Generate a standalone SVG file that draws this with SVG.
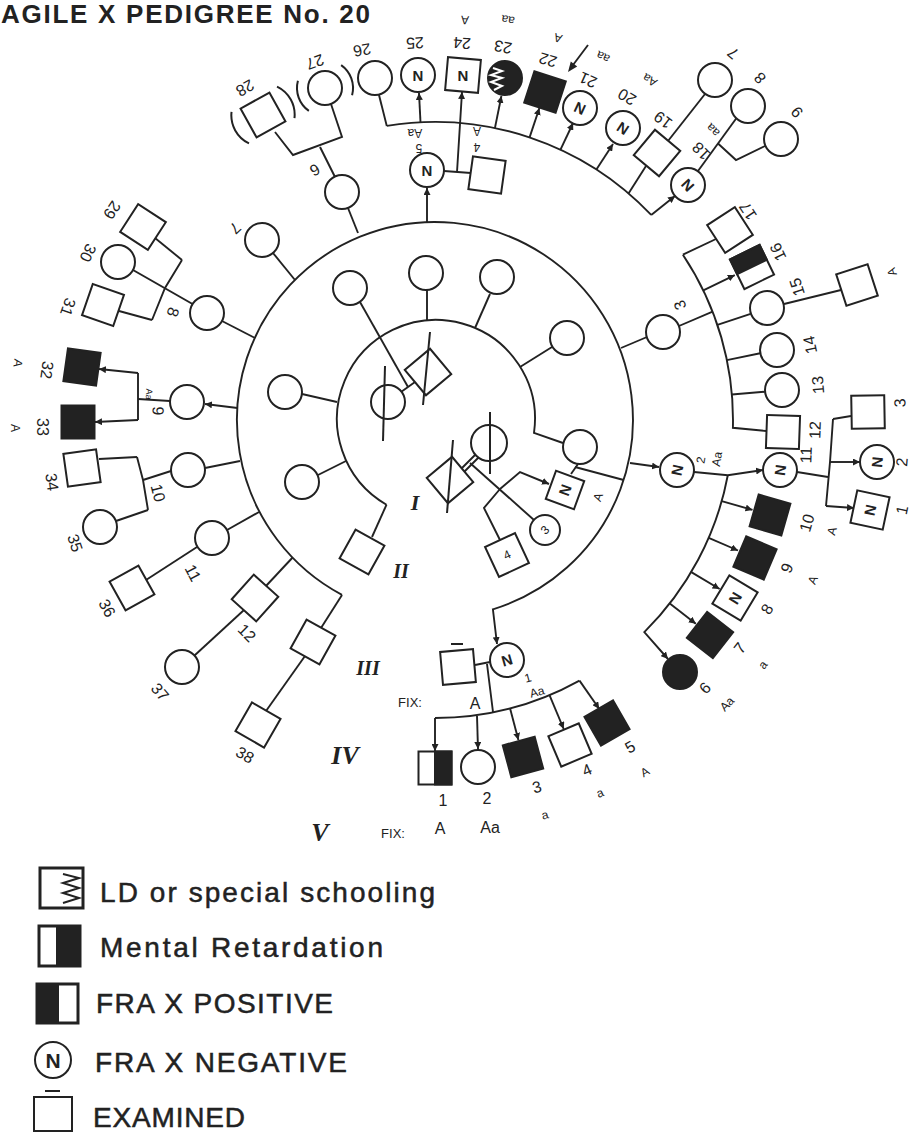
<svg xmlns="http://www.w3.org/2000/svg" width="911" height="1132" viewBox="0 0 911 1132">
<defs>
<style>
.s{fill:#fff;stroke:#222;stroke-width:2}
.b{fill:#222;stroke:#222;stroke-width:2}
.c path{fill:none;stroke:#222;stroke-width:1.9}
.c .a{marker-end:url(#ar)}
text{font-family:"Liberation Sans",Arial,sans-serif;fill:#222}
.l{font-size:16px;text-anchor:middle;dominant-baseline:central}
.m{font-size:12px}
.f{font-size:13px}
.n{font-size:15px;font-weight:bold;text-anchor:middle;dominant-baseline:central}
.r{font-family:"Liberation Serif",serif;font-style:italic;font-weight:bold;text-anchor:middle;dominant-baseline:central}
.g{font-size:28px;stroke:#222;stroke-width:0.5}
.w{fill:none;stroke:#fff;stroke-width:2}
.k{fill:none;stroke:#222;stroke-width:2}
</style>
<marker id="ar" viewBox="0 0 10 10" refX="10" refY="5" markerWidth="7" markerHeight="7" markerUnits="userSpaceOnUse" orient="auto"><path d="M0,0 L10,5 L0,10 z" fill="#222"/></marker>
</defs>
<rect width="911" height="1132" fill="#fff"/>
<text x="1" y="23" font-size="26" font-weight="bold" textLength="369" lengthAdjust="spacing">AGILE X PEDIGREE No. 20</text>

<g id="connectors" class="c">
<path d="M386.5,504.7 A99,99 0 1 1 534,432.8 L563,443"/>
<path d="M386.5,504.7 L372,537"/>
<path d="M360,302 L408,387"/>
<path d="M427,290 L427,320"/>
<path d="M490,294 L475,328"/>
<path d="M552,347 L520,367"/>
<path d="M302,394 L337,402"/>
<path d="M318,475 L346,461"/>
<path d="M401,392 L415,382"/>
<path d="M461.5,468.5 L475.5,454.5 M464.5,471.5 L478.5,457.5"/>
<path d="M470,463 L534,520"/>
<path class="a" d="M500,489 L520,472 L549,484"/>
<path d="M500,489 L484,508 L500,540"/>
<path d="M578,464 L571,474"/>
<path d="M575,467 L623.7,480"/>
<path class="a" d="M342,594.8 A198,198 0 1 1 492.9,609.3 L497,644"/>
<path d="M342,595 L321,628"/>
<path class="a" d="M630,463 L659,467"/>
<path d="M621,348 L647,337"/>
<path class="a" d="M427,222 L427,188"/>
<path d="M358,233 L348,208"/>
<path d="M295,280 L273,253"/>
<path d="M255,338 L222,321"/>
<path class="a" d="M237.5,408 L205,404"/>
<path d="M240,461 L205,468"/>
<path d="M259,512 L227,530"/>
<path d="M292.6,557.5 L266,586"/>
<path d="M386.8,125.9 A298,298 0 0 1 651.2,214.9"/>
<path d="M386.8,125.9 L379,95"/>
<path class="a" d="M420.5,122.4 L419,93"/>
<path d="M444,171 L471,173"/>
<path class="a" d="M457,172 L462,92"/>
<path class="a" d="M494.9,128.1 L501.4,96"/>
<path class="a" d="M529.6,137.4 L539.4,108"/>
<path class="a" d="M560.5,149.7 L573.1,123"/>
<path class="a" d="M596.4,169.5 L613,144"/>
<path d="M628.5,193.4 L646,166"/>
<path class="a" d="M651.2,214.9 L675,196"/>
<path d="M668,141 L705,94"/>
<path d="M698,171 L738,116"/>
<path d="M718,143.5 L736,160 L765,146"/>
<path d="M335,177 L320,147"/>
<path d="M275,132 L293,155 L342,137 L331,104"/>
<path d="M192.5,304 L133,270"/>
<path d="M182,260 L165,288 L152,320"/>
<path d="M182,260 L155,238"/>
<path d="M152,320 L119,311"/>
<path d="M170,401 L138,399"/>
<path d="M138,373 L138,420"/>
<path class="a" d="M138,373 L99,369"/>
<path class="a" d="M138,420 L95,422"/>
<path d="M171,471 L143,480"/>
<path d="M137,457 L143,480 L148,510"/>
<path d="M137,457 L99,459"/>
<path d="M148,510 L116,521"/>
<path d="M197,547 L146,580"/>
<path d="M244,610 L194.5,655.5"/>
<path d="M305,656 L266,711"/>
<path d="M475,665 L490,662"/>
<path d="M487,664 L493,712"/>
<path d="M435,718 A298,298 0 0 0 579.5,680.6"/>
<path class="a" d="M435,718 L435,751"/>
<path class="a" d="M477,716 L478,749"/>
<path class="a" d="M510.1,708.4 L518.4,740"/>
<path class="a" d="M549.5,695.1 L563.7,729"/>
<path class="a" d="M579.5,680.6 L599.3,709"/>
<path class="a" d="M694,472 L727.8,475.3 L763,470"/>
<path class="a" d="M727.8,475.3 A298,298 0 0 1 644.3,632.1 L668,659"/>
<path class="a" d="M721.7,501.1 L752.5,509.9"/>
<path class="a" d="M708.7,537.9 L738,550.5"/>
<path class="a" d="M691.3,572.1 L719.6,589"/>
<path class="a" d="M669.8,603.5 L695.8,623.8"/>
<path d="M797,472 L828,477"/>
<path d="M833,419 L830,462 L826,506"/>
<path d="M833,419 L851,416"/>
<path class="a" d="M830,462 L860,462"/>
<path class="a" d="M826,506 L854,508"/>
<path d="M679,326 L712.6,311.7"/>
<path d="M682.9,254.7 A298,298 0 0 1 732.9,427.8 L766,431"/>
<path d="M682.9,254.7 L716,239"/>
<path class="a" d="M703.3,290.3 L734.8,275.1"/>
<path d="M717.4,324.9 L750.6,313.8"/>
<path d="M726.9,360.1 L760.2,353.2"/>
<path d="M731.9,394.5 L764.8,391.7"/>
<path d="M784,304 L841,290"/>
<path d="M588,45 L573,65"/>
</g>
<polygon points="568,72 577.2,66.4 570.8,61.6" fill="#222"/>

<!-- Generation I -->
<g id="I-1"><rect class="s" x="-16.5" y="-16.5" width="33" height="33" transform="translate(450,480) rotate(-40)"/><path class="k" d="M453,440 L447,513"/></g>
<g id="I-2"><circle class="s" cx="489" cy="443" r="18"/><path class="k" d="M490,412 L490,474"/></g>
<g id="I-3"><circle class="s" cx="388" cy="402" r="17"/><path class="k" d="M385,366 L383,441"/></g>
<g id="I-4"><rect class="s" x="-16.5" y="-16.5" width="33" height="33" transform="translate(428,372) rotate(-40)"/><path class="k" d="M430,332 L423,405"/></g>

<!-- Generation II -->
<g id="II-a"><circle class="s" cx="350" cy="288" r="17"/></g>
<g id="II-b"><circle class="s" cx="426" cy="273" r="17"/></g>
<g id="II-c"><circle class="s" cx="497" cy="277" r="17"/></g>
<g id="II-d"><circle class="s" cx="567" cy="338" r="17"/></g>
<g id="II-e"><circle class="s" cx="285" cy="392" r="17"/></g>
<g id="II-f"><circle class="s" cx="302" cy="482" r="17"/></g>
<g id="II-g"><circle class="s" cx="580" cy="447" r="17"/></g>
<g id="II-h"><rect class="s" x="-16.5" y="-16.5" width="33" height="33" transform="translate(362,552) rotate(29)"/></g>
<g id="II-N"><rect class="s" x="-15" y="-15" width="30" height="30" transform="translate(565,490) rotate(20)"/><text class="n" transform="translate(565,490) rotate(-70)">N</text><text class="l m" transform="translate(598,497) rotate(-70)">A</text></g>
<g id="II-3"><circle class="s" cx="545" cy="530" r="15"/><text class="l m" transform="translate(545,530) rotate(-45)">3</text></g>
<g id="II-4"><rect class="s" x="-16.5" y="-16.5" width="33" height="33" transform="translate(507,555) rotate(-25)"/><text class="l m" transform="translate(507,555) rotate(-25)">4</text></g>

<!-- Generation III -->
<g id="III-1"><circle class="s" cx="507" cy="660" r="17"/><text class="n" transform="translate(507,660) rotate(-16)">N</text><text class="l m" transform="translate(528,678) rotate(-15)">1</text><text class="l m" transform="translate(537,692) rotate(-15)">Aa</text></g>
<g id="III-1s"><rect class="s" x="-16.5" y="-16.5" width="33" height="33" transform="translate(458,667) rotate(-5)"/><path class="k" d="M451,644 L463,644"/></g>
<g id="III-2"><circle class="s" cx="677" cy="470" r="17"/><text class="n" transform="translate(677,470) rotate(-78)">N</text><text class="l m" transform="translate(701,460) rotate(-80)">2</text><text class="l m" transform="translate(717,459) rotate(-80)">Aa</text></g>
<g id="III-3"><circle class="s" cx="663" cy="332" r="17"/><text class="l" transform="translate(680,305) rotate(-111)">3</text></g>
<g id="III-5"><circle class="s" cx="427" cy="170" r="17"/><text class="n" transform="translate(427,170)">N</text><text class="l m" transform="translate(415,133) rotate(180)">Aa</text><text class="l m" transform="translate(419,148) rotate(180)">5</text></g>
<g id="III-4"><rect class="s" x="-16.5" y="-16.5" width="33" height="33" transform="translate(487,175) rotate(8)"/><text class="l m" transform="translate(477,131) rotate(180)">A</text><text class="l m" transform="translate(477,147) rotate(180)">4</text></g>
<g id="III-6"><circle class="s" cx="342" cy="192" r="17"/><text class="l" transform="translate(315,170) rotate(152)">6</text></g>
<g id="III-7"><circle class="s" cx="262" cy="240" r="17"/><text class="l" transform="translate(235,228) rotate(136)">7</text></g>
<g id="III-8"><circle class="s" cx="207" cy="313" r="17"/><text class="l" transform="translate(173,312) rotate(107)">8</text></g>
<g id="III-9"><circle class="s" cx="187" cy="402" r="17"/><text class="l" transform="translate(158,411) rotate(92)">9</text><text class="l" style="font-size:9px" transform="translate(149,394) rotate(92)">Aa</text></g>
<g id="III-10"><circle class="s" cx="188" cy="470" r="17"/><text class="l" transform="translate(158,493) rotate(76)">10</text></g>
<g id="III-11"><circle class="s" cx="212" cy="538" r="17"/><text class="l" transform="translate(193,573) rotate(62)">11</text></g>
<g id="III-12"><rect class="s" x="-16.5" y="-16.5" width="33" height="33" transform="translate(255,598) rotate(42)"/><text class="l" transform="translate(247,633) rotate(45)">12</text></g>
<g id="III-13"><rect class="s" x="-16.5" y="-16.5" width="33" height="33" transform="translate(313,642) rotate(29)"/></g>

<!-- Generation IV top -->
<g id="IV-26"><circle class="s" cx="375" cy="78" r="17"/><text class="l" transform="translate(362,50) rotate(169)">26</text></g>
<g id="IV-25"><circle class="s" cx="418" cy="75" r="17"/><text class="n" transform="translate(418,75)">N</text><text class="l" transform="translate(415,43) rotate(177)">25</text></g>
<g id="IV-24"><rect class="s" x="-16.5" y="-16.5" width="33" height="33" transform="translate(463,75) rotate(5)"/><text class="n" transform="translate(463,75)">N</text><text class="l" transform="translate(462,43) rotate(-176)">24</text><text class="l m" transform="translate(465,20) rotate(-176)">A</text></g>
<g id="IV-23"><circle class="b" cx="505" cy="78" r="17"/><path class="w" d="M493,68 L502,71 L491,75 L502,78 L491,82 L502,86 L494,90"/><text class="l" transform="translate(503,47) rotate(-170)">23</text><text class="l m" transform="translate(508,20) rotate(-170)">aa</text></g>
<g id="IV-22"><rect class="b" x="-16.5" y="-16.5" width="33" height="33" transform="translate(545,92) rotate(18)"/><text class="l" transform="translate(548,60) rotate(-163)">22</text><text class="l m" transform="translate(558,38) rotate(-163)">A</text></g>
<g id="IV-21"><circle class="s" cx="580" cy="108" r="17"/><text class="n" transform="translate(580,108) rotate(25)">N</text><text class="l" transform="translate(588,80) rotate(-156)">21</text><text class="l m" transform="translate(603,57) rotate(-156)">aa</text></g>
<g id="IV-20"><circle class="s" cx="623" cy="128" r="17"/><text class="n" transform="translate(623,128) rotate(33)">N</text><text class="l" transform="translate(627,97) rotate(-149)">20</text><text class="l m" transform="translate(650,80) rotate(-149)">Aa</text></g>
<g id="IV-19"><rect class="s" x="-16.5" y="-16.5" width="33" height="33" transform="translate(657,153) rotate(40)"/><text class="l" transform="translate(663,120) rotate(-143)">19</text></g>
<g id="IV-18"><circle class="s" cx="688" cy="185" r="17"/><text class="n" transform="translate(688,185) rotate(47)">N</text><text class="l" transform="translate(701,151) rotate(-135)">18</text><text class="l m" transform="translate(713,130) rotate(-135)">aa</text></g>
<g id="IV-19s"><circle class="s" cx="715" cy="80" r="17"/><text class="l" transform="translate(733,53) rotate(-140)">7</text></g>
<g id="IV-18s1"><circle class="s" cx="748" cy="106" r="17"/><text class="l" transform="translate(760,78) rotate(-133)">8</text></g>
<g id="IV-18s2"><circle class="s" cx="781" cy="139" r="17"/><text class="l" transform="translate(797,112) rotate(-130)">9</text></g>

<!-- Generation IV left -->
<g id="IV-27"><circle class="s" cx="325" cy="88" r="17"/><g transform="rotate(-20,325,88)"><path class="k" d="M302,72 A28,28 0 0 0 302,104 M348,72 A28,28 0 0 1 348,104"/></g><text class="l" transform="translate(315,62) rotate(160)">27</text></g>
<g id="IV-28"><rect class="s" x="-16.5" y="-16.5" width="33" height="33" transform="translate(263,115) rotate(-29)"/><g transform="rotate(-29,263,115)"><path class="k" d="M237,97 A31,31 0 0 0 237,133 M289,97 A31,31 0 0 1 289,133"/></g><text class="l" transform="translate(245,88) rotate(150)">28</text></g>
<g id="IV-29"><rect class="s" x="-16.5" y="-16.5" width="33" height="33" transform="translate(143,227) rotate(33)"/><text class="l" transform="translate(112,210) rotate(124)">29</text></g>
<g id="IV-30"><circle class="s" cx="118" cy="262" r="17"/><text class="l" transform="translate(88,253) rotate(116)">30</text></g>
<g id="IV-31"><rect class="s" x="-16.5" y="-16.5" width="33" height="33" transform="translate(103,305) rotate(19)"/><text class="l" transform="translate(68,307) rotate(109)">31</text></g>
<g id="IV-32"><rect class="b" x="-16.5" y="-16.5" width="33" height="33" transform="translate(82,367) rotate(8)"/><text class="l" transform="translate(47,370) rotate(98)">32</text><text class="l m" transform="translate(18,363) rotate(98)">A</text></g>
<g id="IV-33"><rect class="b" x="-16.5" y="-16.5" width="33" height="33" transform="translate(78,422)"/><text class="l" transform="translate(42,427) rotate(90)">33</text><text class="l m" transform="translate(15,428) rotate(90)">A</text></g>
<g id="IV-34"><rect class="s" x="-16.5" y="-16.5" width="33" height="33" transform="translate(82,468) rotate(-8)"/><text class="l" transform="translate(52,482) rotate(82)">34</text></g>
<g id="IV-35"><circle class="s" cx="100" cy="527" r="17"/><text class="l" transform="translate(75,543) rotate(71)">35</text></g>
<g id="IV-36"><rect class="s" x="-16.5" y="-16.5" width="33" height="33" transform="translate(132,588) rotate(-29)"/><text class="l" transform="translate(107,608) rotate(61)">36</text></g>
<g id="IV-37"><circle class="s" cx="182" cy="667" r="17"/><text class="l" transform="translate(160,692) rotate(50)">37</text></g>
<g id="IV-38"><rect class="s" x="-16.5" y="-16.5" width="33" height="33" transform="translate(258,725) rotate(30)"/><text class="l" transform="translate(245,755) rotate(30)">38</text></g>

<!-- Generation IV right -->
<g id="IV-17"><rect class="s" x="-16.5" y="-16.5" width="33" height="33" transform="translate(730,230) rotate(-33)"/><text class="l" transform="translate(748,211) rotate(-123)">17</text></g>
<g id="IV-16"><g transform="translate(752,267) rotate(-26)"><rect class="s" x="-16.5" y="-16.5" width="33" height="33"/><rect class="b" x="-16.5" y="-16.5" width="33" height="16.5"/></g><text class="l" transform="translate(778,252) rotate(-116)">16</text></g>
<g id="IV-15"><circle class="s" cx="767" cy="308" r="17"/><text class="l" transform="translate(797,287) rotate(-108)">15</text></g>
<g id="IV-15s"><rect class="s" x="-16.5" y="-16.5" width="33" height="33" transform="translate(857,285) rotate(-18)"/><text class="l m" transform="translate(892,272) rotate(-108)">A</text></g>
<g id="IV-14"><circle class="s" cx="777" cy="350" r="17"/><text class="l" transform="translate(810,345) rotate(-102)">14</text></g>
<g id="IV-13"><circle class="s" cx="782" cy="390" r="17"/><text class="l" transform="translate(818,385) rotate(-95)">13</text></g>
<g id="IV-12"><rect class="s" x="-16.5" y="-16.5" width="33" height="33" transform="translate(783,432) rotate(2)"/><text class="l" transform="translate(815,430) rotate(-88)">12</text></g>
<g id="IV-11"><circle class="s" cx="780" cy="470" r="17"/><text class="n" transform="translate(780,470) rotate(-82)">N</text><text class="l" transform="translate(806,455) rotate(-88)">11</text></g>
<g id="V-3"><rect class="s" x="-16.5" y="-16.5" width="33" height="33" transform="translate(868,412) rotate(-1)"/><text class="l" transform="translate(900,403) rotate(-91)">3</text></g>
<g id="V-2"><circle class="s" cx="877" cy="462" r="17"/><text class="n" transform="translate(877,462) rotate(-85)">N</text><text class="l" transform="translate(902,462) rotate(-85)">2</text></g>
<g id="V-1"><rect class="s" x="-16.5" y="-16.5" width="33" height="33" transform="translate(870,510) rotate(12)"/><text class="n" transform="translate(870,510) rotate(-78)">N</text><text class="l" transform="translate(902,510) rotate(-78)">1</text></g>
<g id="IV-10"><rect class="b" x="-16.5" y="-16.5" width="33" height="33" transform="translate(770,515) rotate(16)"/><text class="l" transform="translate(807,523) rotate(-74)">10</text><text class="l m" transform="translate(832,531) rotate(-74)">A</text></g>
<g id="IV-9"><rect class="b" x="-16.5" y="-16.5" width="33" height="33" transform="translate(755,558) rotate(23)"/><text class="l" transform="translate(787,568) rotate(-67)">9</text><text class="l m" transform="translate(813,580) rotate(-67)">A</text></g>
<g id="IV-8"><rect class="s" x="-16.5" y="-16.5" width="33" height="33" transform="translate(735,598) rotate(31)"/><text class="n" transform="translate(735,598) rotate(-59)">N</text><text class="l" transform="translate(767,609) rotate(-59)">8</text></g>
<g id="IV-7"><rect class="b" x="-16.5" y="-16.5" width="33" height="33" transform="translate(710,635) rotate(38)"/><text class="l" transform="translate(740,648) rotate(-52)">7</text><text class="l m" transform="translate(763,665) rotate(-52)">a</text></g>
<g id="IV-6"><circle class="b" cx="680" cy="672" r="17"/><text class="l" transform="translate(705,688) rotate(-45)">6</text><text class="l m" transform="translate(727,704) rotate(-45)">Aa</text></g>

<!-- Generation IV bottom -->
<g id="IV-1"><rect class="s" x="418.5" y="751.5" width="33" height="33"/><rect class="b" x="435" y="751.5" width="16.5" height="33"/><text class="l" x="443" y="800">1</text><text class="l" x="440" y="828">A</text></g>
<g id="IV-2"><circle class="s" cx="478" cy="767" r="17"/><text class="l" x="487" y="798">2</text><text class="l" x="490" y="827">Aa</text></g>
<g id="IV-3"><rect class="b" x="-16.5" y="-16.5" width="33" height="33" transform="translate(523,757) rotate(-15)"/><text class="l" transform="translate(537,787) rotate(-15)">3</text><text class="l m" transform="translate(545,815) rotate(-15)">a</text></g>
<g id="IV-4"><rect class="s" x="-16.5" y="-16.5" width="33" height="33" transform="translate(570,745) rotate(-23)"/><text class="l" transform="translate(587,770) rotate(-23)">4</text><text class="l m" transform="translate(600,793) rotate(-23)">a</text></g>
<g id="IV-5"><rect class="b" x="-16.5" y="-16.5" width="33" height="33" transform="translate(607,723) rotate(-30)"/><text class="l" transform="translate(630,747) rotate(-30)">5</text><text class="l m" transform="translate(645,772) rotate(-30)">A</text></g>

<g id="gen-labels">
<text class="r" x="415" y="502" font-size="22">I</text>
<text class="r" x="401" y="571" font-size="20">II</text>
<text class="r" x="368" y="668" font-size="20">III</text>
<text class="r" x="345" y="755" font-size="26">IV</text>
<text class="r" x="320" y="832" font-size="26">V</text>
<text class="l f" x="410" y="702">FIX:</text>
<text class="l" x="475" y="703">A</text>
<text class="l f" x="393" y="833">FIX:</text>
</g>

<g id="legend">
<rect x="40" y="868" width="43" height="40" fill="#fff" stroke="#222" stroke-width="3"/>
<path class="k" d="M63,874 L79,878 L63,883 L79,888 L63,893 L79,898 L63,903"/>
<text class="g" x="100" y="902" textLength="335" lengthAdjust="spacing">LD or special schooling</text>
<rect x="39" y="926" width="41" height="40" fill="#fff" stroke="#222" stroke-width="3"/>
<rect x="56" y="926" width="24" height="40" fill="#222"/>
<text class="g" x="100" y="957" textLength="283" lengthAdjust="spacing">Mental Retardation</text>
<rect x="37" y="984" width="41" height="39" fill="#fff" stroke="#222" stroke-width="3"/>
<rect x="37" y="984" width="22" height="39" fill="#222"/>
<text class="g" x="96" y="1013" textLength="237" lengthAdjust="spacing">FRA X POSITIVE</text>
<circle class="s" cx="53" cy="1060" r="18"/>
<text class="n" x="53" y="1060" style="font-size:21px">N</text>
<text class="g" x="95" y="1072" textLength="252" lengthAdjust="spacing">FRA X NEGATIVE</text>
<rect x="34" y="1097" width="38" height="34" fill="#fff" stroke="#222" stroke-width="2"/>
<path class="k" d="M45,1091 L60,1091"/>
<text class="g" x="93" y="1127" textLength="152" lengthAdjust="spacing">EXAMINED</text>
</g>
</svg>
